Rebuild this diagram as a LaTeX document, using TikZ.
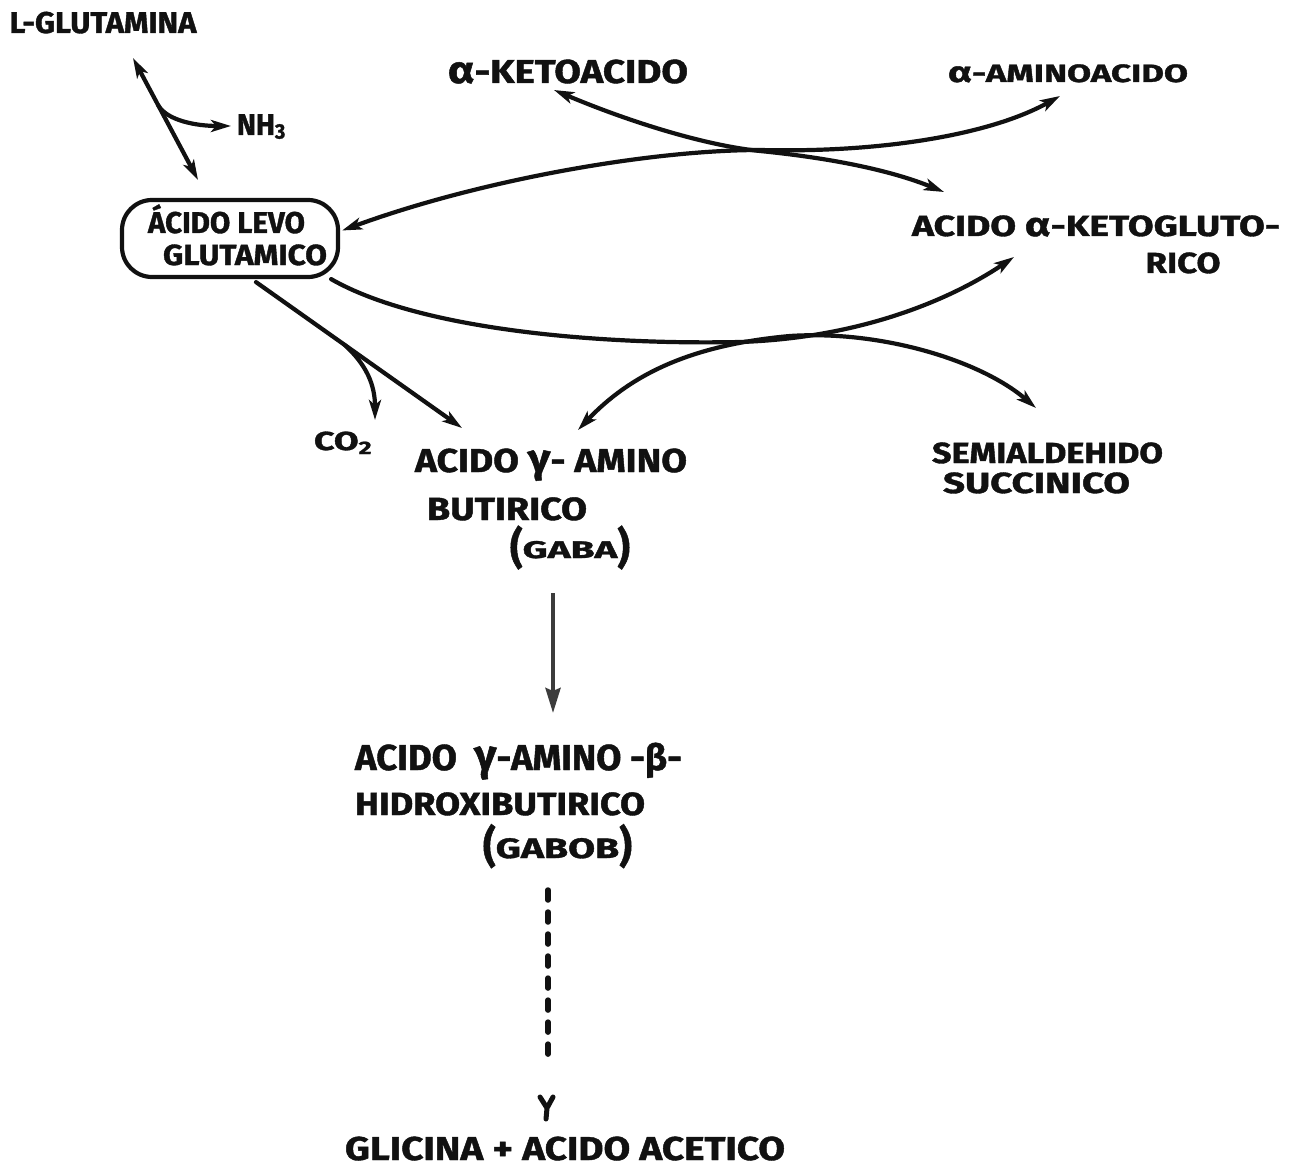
\documentclass[tikz,border=0pt]{standalone}
\usepackage{fontspec}
\setmainfont{Fira Sans}[BoldFeatures={FakeBold=1.2}]
\usepackage{graphicx}
\usetikzlibrary{arrows.meta,calc}

% one drawing unit = 0.01cm
\newdimen\px \px=0.01cm
% \lbl{target width}{font size}{text}: bold line squeezed to a given width
\newcommand\lbl[3]{\resizebox{#1\px}{\height}{\fontsize{\fpeval{#2*0.284528}}{\fpeval{#2*0.34}}\selectfont\bfseries #3}}
% tall parentheses and large Greek letters of the lettering
\newcommand\Lp[1]{\raisebox{\fpeval{0.345-0.3*#1}em}{\scalebox{1}[#1]{(}}}
\newcommand\Rp[1]{\raisebox{\fpeval{0.345-0.3*#1}em}{\scalebox{1}[#1]{)}}}
\newcommand\alp{\scalebox{1.15}{α}}
\newcommand\gam{\scalebox{1.2}{γ}}

\definecolor{ink}{HTML}{111111}
\definecolor{pencil}{HTML}{3C3C3C}

\tikzset{
  hd/.tip={Stealth[length=0.2cm,width=0.12cm,inset=0.05cm]},
  lab/.style={inner sep=0pt, anchor=base, text=ink},
  conn/.style={draw=ink, line width=0.042cm, line cap=round},
  fwd/.style={conn, -hd},
  both/.style={conn, hd-hd},
}

\begin{document}
\begin{tikzpicture}[x=0.01cm, y=-0.01cm]
\useasboundingbox (0,0) rectangle (1298,1167);
\fill[white] (0,0) rectangle (1298,1167);

% ---- labels ----
\node[lab] (lglu)   at (103,33)    {\lbl{187}{30}{L-GLUTAMINA}};
\node[lab] (aketo)  at (568,83)    {\lbl{240}{33}{\alp-KETOACIDO}};
\node[lab] (aamino) at (1068,82)   {\lbl{240}{25}{\alp-AMINOACIDO}};
\node[lab] (nh3)    at (262,135)   {\lbl{50}{30}{NH\textsubscript{3}}};

\node[draw=ink, line width=0.042cm, rounded corners=0.3cm,
      minimum width=216\px, minimum height=77\px, inner sep=0pt]
      (box) at (230,238.5) {};
\node[lab] (box1)   at (226.5,233) {\lbl{157}{30}{ÁCIDO LEVO}};
\node[lab] (box2)   at (245,265)   {\lbl{164}{29}{GLUTAMICO}};

\node[lab] (akg1)   at (1096,236)  {\lbl{368}{29}{ACIDO \alp-KETOGLUTO-}};
\node[lab] (akg2)   at (1183,273)  {\lbl{75}{29}{RICO}};

\node[lab] (co2)    at (344,450)   {\lbl{60}{26}{CO\textsubscript{2}}};

\node[lab] (gaba1)  at (551,472)   {\lbl{272}{33}{ACIDO \gam- AMINO}};
\node[lab] (gaba2)  at (507,520)   {\lbl{160}{32}{BUTIRICO}};
\node[lab] (gaba3)  at (570,558)   {\lbl{120}{24}{\Lp{1.8}GABA\Rp{1.8}}};

\node[lab] (ssa1)   at (1047.5,463) {\lbl{231}{29}{SEMIALDEHIDO}};
\node[lab] (ssa2)   at (1036.5,493) {\lbl{187}{29}{SUCCINICO}};

\node[lab] (gabob1) at (518.5,770) {\lbl{327}{36}{ACIDO \ \gam-AMINO -β-}};
\node[lab] (gabob2) at (500,815)   {\lbl{290}{32}{HIDROXIBUTIRICO}};
\node[lab] (gabob3) at (557.5,858) {\lbl{149}{28}{\Lp{1.55}GABOB\Rp{1.55}}};

\node[lab] (glic)   at (565,1160)  {\lbl{440}{33}{GLICINA + ACIDO ACETICO}};

% ---- glutamine <-> glutamate, releasing NH3 ----
\coordinate (gq1) at ($(lglu.base)+(30,25)$);
\coordinate (gq2) at ($(box.north)+(-32,-18)$);
\draw[both] (gq1) -- (gq2);
\draw[fwd] ($(gq1)!0.39!(gq2)$) .. controls +(9,15) and +(-35,0) .. ($(nh3.base)+(-31,-9)$);

% ---- transamination, upper pair ----
\draw[both] ($(aketo.base)+(-14,7)$)
   .. controls (620,118) and (700,145) .. (760,151)
   .. controls (830,158) and (890,170) .. ($(akg1.base)+(-152,-44)$);
\draw[both] ($(box.east)+(2,-8)$)
   .. controls (480,180) and (650,150) .. (760,150)
   .. controls (880,153) and (990,135) .. ($(aamino.base)+(-8,14)$);

% ---- transamination, lower pair ----
\draw[fwd] ($(box.south east)+(-9,0)$)
   .. controls (420,330) and (600,345) .. (740,342)
   .. controls (860,338) and (950,300) .. ($(akg2.base)+(-169,-16)$);
\draw[both] ($(gaba1.base)+(27,-42)$)
   .. controls (630,375) and (690,345) .. (790,336)
   .. controls (880,330) and (980,360) .. ($(ssa1.base)+(-11.5,-55)$);

% ---- decarboxylation ----
\coordinate (dc1) at ($(box.south)+(26,3)$);
\coordinate (dc2) at ($(gaba1.base)+(-89,-44)$);
\draw[fwd] (dc1) -- (dc2);
\draw[fwd] ($(dc1)!0.43!(dc2)$) .. controls +(22,20) and +(0,-35) .. ($(co2.base)+(31,-30)$);

% ---- GABA -> GABOB ----
\draw[draw=pencil, line width=0.04cm, -{Stealth[length=0.25cm,width=0.15cm,inset=0.03cm,fill=pencil]}]
   ($(gaba3.base)+(-17,35)$) -- ($(gabob1.base)+(34.5,-57)$);

% ---- GABOB ... -> glycine + acetic acid ----
\draw[conn, line width=0.055cm, dash pattern=on 0.10cm off 0.12cm]
   ($(gabob3.base)+(-9.5,32)$) -- ($(glic.base)+(-17,-97)$);
\draw[conn, line width=0.05cm, line join=round]
   ($(glic.base)+(-25,-63)$) -- ($(glic.base)+(-18,-52)$) -- ($(glic.base)+(-12,-63)$)
   ($(glic.base)+(-18,-52)$) -- ($(glic.base)+(-19,-41)$);
\end{tikzpicture}
\end{document}
